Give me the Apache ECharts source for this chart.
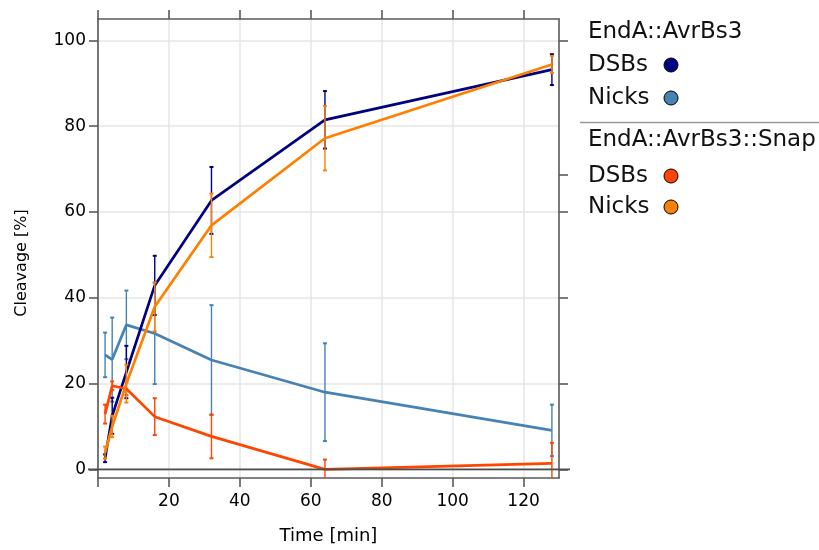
<!DOCTYPE html>
<html>
<head>
<meta charset="utf-8">
<script src="https://cdn.jsdelivr.net/npm/echarts@6/dist/echarts.min.js"></script>
<style>
  html, body { margin: 0; padding: 0; background: #fff; }
  #chart { width: 819px; height: 550px; }
</style>
</head>
<body>
<div id="chart"></div>
<script>
// Time points of the cleavage assay [min]
const times = [2, 4, 8, 16, 32, 64, 128];

// EndA::AvrBs3 — mean cleavage and error (±)
const dsbAvr = [2.6, 12.5, 22.7, 42.9, 62.7, 81.5, 93.2];
const dsbAvrErr = [0.9, 4.2, 6.1, 6.9, 7.8, 6.7, 3.6];
const nickAvr = [26.7, 25.6, 33.7, 31.7, 25.5, 18.0, 9.1];
const nickAvrErr = [5.2, 9.8, 8.0, 11.8, 12.8, 11.4, 6.0];

// EndA::AvrBs3::Snap — mean cleavage and error (±)
const dsbSnap = [12.9, 19.5, 18.8, 12.3, 7.7, 0.0, 1.4];
const dsbSnapErr = [2.2, 1.0, 1.5, 4.3, 5.1, 2.3, 4.8];
const nickSnap = [3.9, 10.0, 20.0, 37.9, 56.9, 77.2, 94.4];
const nickSnapErr = [1.4, 2.5, 4.4, 5.7, 7.4, 7.5, 2.0];

// Axis ticks
const xTicks = [0, 20, 40, 60, 80, 100, 120];
const xTickLabels = [20, 40, 60, 80, 100, 120];
const yTicks = [0, 20, 40, 60, 80, 100];
const yTicksRight = [0, 20, 40, 60, 68.6, 100];

const groups = [
  { title: 'EndA::AvrBs3', entries: [
    { name: 'DSBs', values: dsbAvr, errors: dsbAvrErr, color: '#000080' },
    { name: 'Nicks', values: nickAvr, errors: nickAvrErr, color: '#4682B4' }
  ]},
  { title: 'EndA::AvrBs3::Snap', entries: [
    { name: 'DSBs', values: dsbSnap, errors: dsbSnapErr, color: '#FF4500' },
    { name: 'Nicks', values: nickSnap, errors: nickSnapErr, color: '#FF8000' }
  ]}
];

const FONT = 'DejaVu Sans';
const AXIS_COLOR = '#5a5a5a';
const GRID_COLOR = '#e6e6e6';

const chart = echarts.init(document.getElementById('chart'), null, { renderer: 'canvas' });

function errorBars(color) {
  return function (params, api) {
    const x = api.value(0);
    const pLo = api.coord([x, api.value(1)]);
    const pHi = api.coord([x, api.value(2)]);
    const half = 2;
    const style = { stroke: color, lineWidth: 1.4 };
    return {
      type: 'group',
      children: [
        { type: 'line', shape: { x1: pLo[0], y1: pLo[1], x2: pHi[0], y2: pHi[1] }, style },
        { type: 'line', shape: { x1: pLo[0] - half, y1: pLo[1], x2: pLo[0] + half, y2: pLo[1] }, style: { stroke: color, lineWidth: 2 } },
        { type: 'line', shape: { x1: pHi[0] - half, y1: pHi[1], x2: pHi[0] + half, y2: pHi[1] }, style: { stroke: color, lineWidth: 2 } }
      ]
    };
  };
}

const series = [];
const drawOrder = [groups[0].entries[1], groups[0].entries[0], groups[1].entries[0], groups[1].entries[1]];
drawOrder.forEach(function (e, i) {
  series.push({
    type: 'custom',
    name: e.name + ' bars',
    renderItem: errorBars(e.color),
    clip: true,
    z: 2 + i,
    silent: true,
    data: times.map(function (t, k) { return [t, e.values[k] - e.errors[k], e.values[k] + e.errors[k]]; })
  });
  series.push({
    type: 'line',
    name: e.name,
    data: times.map(function (t, k) { return [t, e.values[k]]; }),
    showSymbol: false,
    symbol: 'none',
    lineStyle: { color: e.color, width: 2.7 },
    itemStyle: { color: e.color },
    z: 3 + i,
    silent: true,
    animation: false
  });
});

const axisLineStyle = { show: true, lineStyle: { color: AXIS_COLOR, width: 1.6 } };
const axisTickStyle = { show: true, inside: false, length: 9, lineStyle: { color: AXIS_COLOR, width: 1.6 } };

const option = {
  animation: false,
  backgroundColor: '#ffffff',
  grid: { left: 98, top: 19, right: 260, bottom: 70, containLabel: false },
  xAxis: [
    {
      type: 'value', position: 'bottom', min: 0, max: 130,
      name: 'Time [min]', nameLocation: 'middle', nameGap: 49,
      nameTextStyle: { fontFamily: FONT, fontSize: 18, color: '#000' },
      axisLine: Object.assign({ onZero: false }, axisLineStyle),
      axisTick: Object.assign({ customValues: xTicks }, axisTickStyle),
      axisLabel: { customValues: xTickLabels, fontFamily: FONT, fontSize: 17, color: '#000', margin: 15 },
      splitLine: { show: true, lineStyle: { color: GRID_COLOR, width: 1.5 } }
    },
    {
      type: 'value', position: 'top', min: 0, max: 130,
      axisLine: Object.assign({ onZero: false }, axisLineStyle),
      axisTick: Object.assign({ customValues: xTicks }, axisTickStyle),
      axisLabel: { show: false },
      splitLine: { show: false }
    }
  ],
  yAxis: [
    {
      type: 'value', position: 'left', min: -2, max: 105,
      axisLine: Object.assign({ onZero: false }, axisLineStyle),
      axisTick: Object.assign({ customValues: yTicks }, axisTickStyle),
      axisLabel: { customValues: yTicks, fontFamily: FONT, fontSize: 17, color: '#000', margin: 12 },
      splitLine: { show: true, lineStyle: { color: GRID_COLOR, width: 1.5 } }
    },
    {
      type: 'value', position: 'right', min: -2, max: 105,
      axisLine: Object.assign({ onZero: false }, axisLineStyle),
      axisTick: Object.assign({ customValues: yTicksRight }, axisTickStyle),
      axisLabel: { show: false },
      splitLine: { show: false }
    }
  ],
  series: series
};

chart.setOption(option);

// Zero reference line (slightly overhanging the panel), y title and the grouped key
const gridRect = chart.getModel().getComponent('grid').coordinateSystem.getRect();
const yZero = chart.convertToPixel({ yAxisIndex: 0 }, 0);

const graphics = [{
  type: 'line', z: 20,
  shape: { x1: gridRect.x - 10, y1: yZero, x2: gridRect.x + gridRect.width + 11, y2: yZero },
  style: { stroke: '#4d4d4d', lineWidth: 1.6 }
}, {
  type: 'text', x: 22, y: 263, rotation: Math.PI / 2,
  style: { text: 'Cleavage [%]', font: '16px "' + FONT + '"', fill: '#000', align: 'center', verticalAlign: 'middle' }
}];

const keyLeft = 588;
const keyDotX = 671;
const rowY = [[32, 65, 98], [140, 176, 207]];
groups.forEach(function (g, gi) {
  graphics.push({
    type: 'text', x: keyLeft, y: rowY[gi][0],
    style: { text: g.title, font: '23px "' + FONT + '"', fill: '#111', verticalAlign: 'middle' }
  });
  g.entries.forEach(function (e, ei) {
    const y = rowY[gi][ei + 1];
    graphics.push({
      type: 'text', x: keyLeft, y: y,
      style: { text: e.name, font: '23px "' + FONT + '"', fill: '#111', verticalAlign: 'middle' }
    });
    graphics.push({
      type: 'circle', shape: { cx: keyDotX, cy: y, r: 7 },
      style: { fill: e.color, stroke: '#000', lineWidth: 1 }
    });
  });
});
graphics.push({
  type: 'line', shape: { x1: 580, y1: 122.5, x2: 819, y2: 122.5 },
  style: { stroke: '#999', lineWidth: 1.5 }
});

chart.setOption({ graphic: graphics });
</script>
</body>
</html>
